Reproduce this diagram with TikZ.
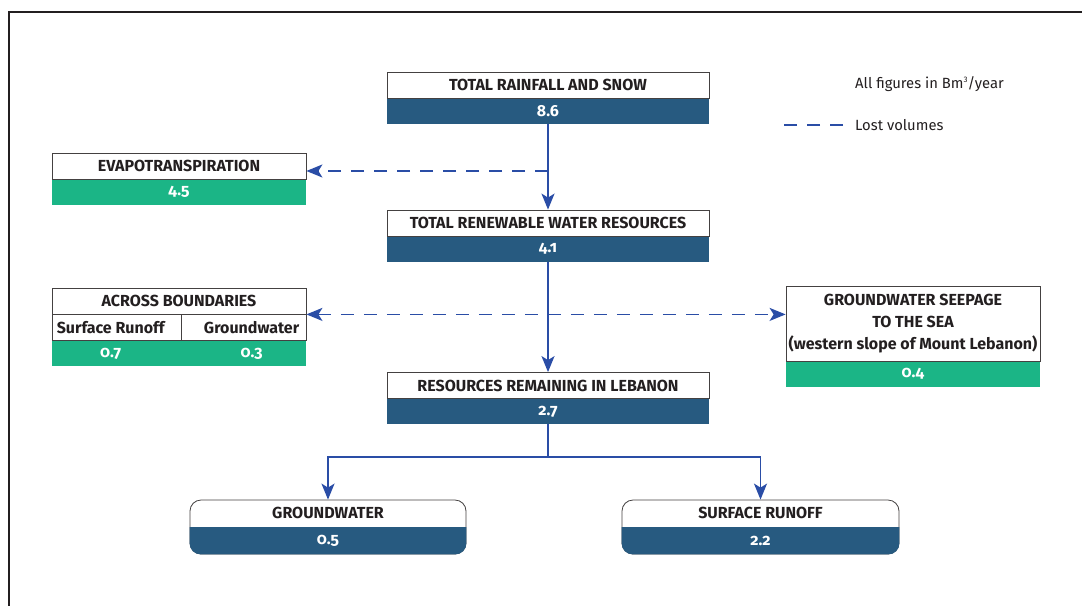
\documentclass[tikz,border=0pt]{standalone}
\usepackage{fontspec}
\setmainfont{Fira Sans}
\usetikzlibrary{calc, positioning, arrows.meta}
\definecolor{darkblue}{HTML}{275A80}
\definecolor{mint}{HTML}{1BB586}
\definecolor{linkblue}{HTML}{2A4DA6}
\definecolor{ink}{HTML}{231F20}

\begin{document}
\begin{tikzpicture}[x=1pt, y=-1pt, >={Stealth[length=16pt, width=13pt, inset=4pt]},
  head/.style={draw=ink!85, line width=0.8pt, fill=white, minimum height=26pt, inner sep=0pt, text=ink, font=\bfseries\fontsize{16}{22}\selectfont},
  val/.style={fill=#1, minimum height=25pt, inner sep=0pt, text=white, font=\bfseries\fontsize{16}{16}\selectfont\addfontfeatures{Numbers=OldStyle}},
  subtext/.style={inner sep=0pt, text=ink, font=\bfseries\fontsize{16}{16}\selectfont},
  valtext/.style={inner sep=0pt, text=white, font=\bfseries\fontsize{16}{16}\selectfont\addfontfeatures{Numbers=OldStyle}},
  roundbox/.style={draw=ink!85, line width=0.8pt, fill=white, rounded corners=11pt, minimum width=276pt, minimum height=54pt, inner sep=0pt},
  legend/.style={inner sep=0pt, text=ink, font=\fontsize{14.8}{16}\selectfont},
  flow/.style={linkblue, line width=1.8pt},
  lost/.style={linkblue, line width=1.8pt, dash pattern=on 13pt off 10pt}]
  \useasboundingbox (0,0) rectangle (1082,606);

  % Frame
  \draw[ink, line width=2.5pt] (1082,12) -| (9,606);

  % Total rainfall
  \node[head, minimum width=322pt] (rain) at (548,85) {TOTAL RAINFALL AND SNOW};
  \node[val=darkblue, minimum width=322pt, below=0pt of rain] (rainv) {8.6};

  % Evapotranspiration
  \node[head, minimum width=254pt] (evap) at (179,166) {EVAPOTRANSPIRATION};
  \node[val=mint, minimum width=254pt, below=0pt of evap] (evapv) {4.5};

  % Renewable resources
  \node[head, minimum width=322pt] (renew) at (548,223) {TOTAL RENEWABLE WATER RESOURCES};
  \node[val=darkblue, minimum width=322pt, below=0pt of renew] (renewv) {4.1};

  % Across boundaries, two cells
  \node[head, minimum width=254pt] (across) at (179,301) {ACROSS BOUNDARIES};
  \node[head, minimum width=129pt, anchor=north west] (cellsr) at (across.south west) {};
  \node[head, minimum width=125pt, anchor=north east] (cellgw) at (across.south east) {};
  \node[subtext, anchor=west] (srtext) at ($(cellsr.west)+(5,0)$) {Surface Runoff};
  \node[subtext, anchor=east] (gwtext) at ($(cellgw.east)+(-7,0)$) {Groundwater};
  \node[val=mint, minimum width=254pt, anchor=north west] (acrossv) at (cellsr.south west) {};
  \node[valtext] (srval) at (srtext |- acrossv) {0.7};
  \node[valtext] (gwval) at (gwtext |- acrossv) {0.3};

  % Seepage to the sea
  \node[head, minimum width=254pt, minimum height=75pt, align=center] (seep) at (913,323.5)
    {GROUNDWATER SEEPAGE\\TO THE SEA\\(western slope of Mount Lebanon)};
  \node[val=mint, minimum width=254pt, below=0pt of seep] (seepv) {0.4};

  % Remaining in Lebanon
  \node[head, minimum width=322pt] (remain) at (548,385.5) {RESOURCES REMAINING IN LEBANON};
  \node[val=darkblue, minimum width=322pt, below=0pt of remain] (remainv) {2.7};

  % Groundwater and surface runoff
  \node[roundbox] (gw) at (328,527) {};
  \fill[darkblue, rounded corners=11pt] (gw.west) -- (gw.south west) -- (gw.south east) -- (gw.east);
  \node[subtext] (gwhead) at ($(gw.center)!0.5!(gw.north)$) {GROUNDWATER};
  \node[valtext] (gwv) at ($(gw.center)!0.5!(gw.south)$) {0.5};

  \node[roundbox, minimum width=277pt] (sr) at (760.5,527) {};
  \fill[darkblue, rounded corners=11pt] (sr.west) -- (sr.south west) -- (sr.south east) -- (sr.east);
  \node[subtext] (srhead) at ($(sr.center)!0.5!(sr.north)$) {SURFACE RUNOFF};
  \node[valtext] (srv) at ($(sr.center)!0.5!(sr.south)$) {2.2};

  % Legend
  \node[legend, anchor=west] (units) at (855,84) {All figures in Bm\raisebox{5.5pt}{\fontsize{8}{8}\selectfont 3}/year};
  \node[legend, anchor=west] (lostlbl) at (855,125) {Lost volumes};
  \coordinate (lostend) at ($(lostlbl.west)+(-12,0)$);
  \draw[lost] (lostend) -- ++(-61,0);

  % Connections
  \draw[flow, ->] (rainv) -- (renew);
  \draw[flow, ->] (renewv) -- (remain);
  \coordinate (evapjoin) at ($(rainv.south)!0.55!(renew.north)$);
  \draw[lost, ->] (evapjoin) -- (evapjoin -| evap.east);
  \draw[lost, <->] (cellgw.north east) -- (cellgw.north east -| seep.west);
  \draw[flow, ->] (remainv.south) -- ++(0,33) coordinate (split) -| (gw.north);
  \draw[flow, ->] (split) -| (sr.north);
\end{tikzpicture}
\end{document}
